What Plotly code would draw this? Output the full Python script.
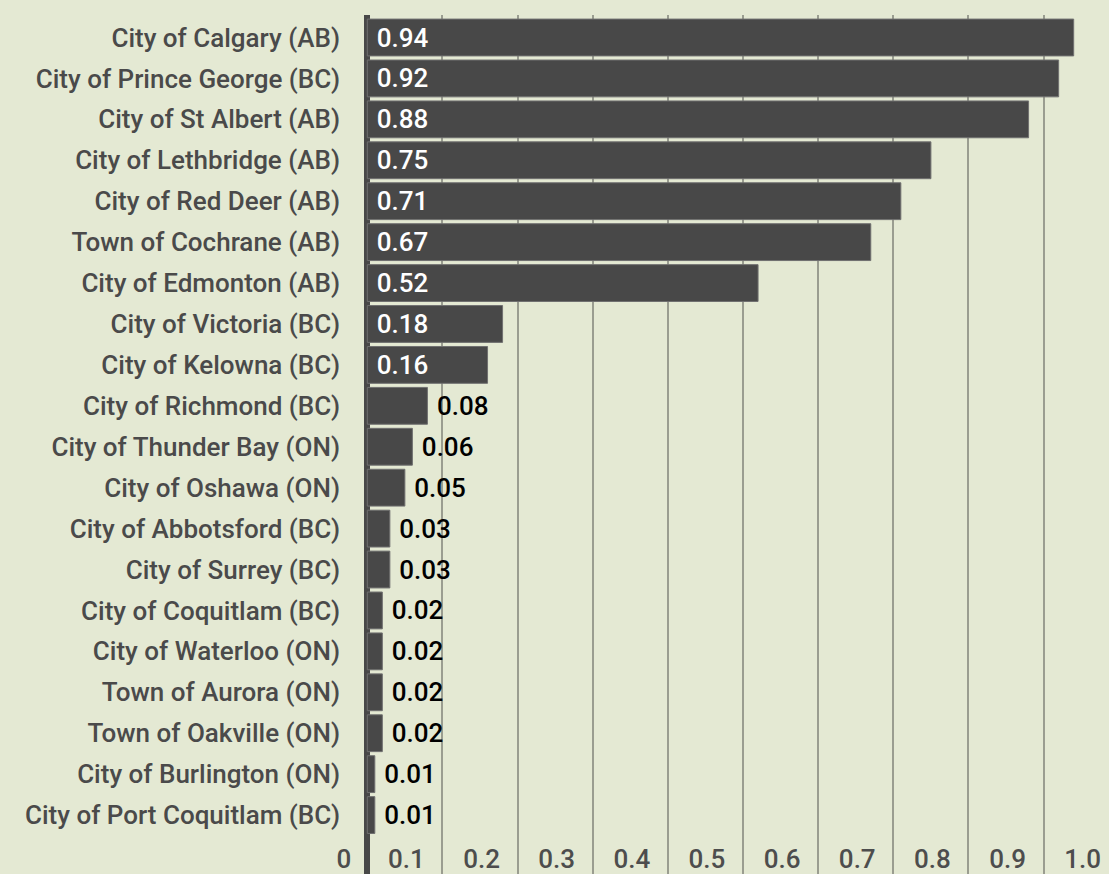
import plotly.graph_objects as go

cities = [
    "City of Calgary (AB)", "City of Prince George (BC)", "City of St Albert (AB)",
    "City of Lethbridge (AB)", "City of Red Deer (AB)", "Town of Cochrane (AB)",
    "City of Edmonton (AB)", "City of Victoria (BC)", "City of Kelowna (BC)",
    "City of Richmond (BC)", "City of Thunder Bay (ON)", "City of Oshawa (ON)",
    "City of Abbotsford (BC)", "City of Surrey (BC)", "City of Coquitlam (BC)",
    "City of Waterloo (ON)", "Town of Aurora (ON)", "Town of Oakville (ON)",
    "City of Burlington (ON)", "City of Port Coquitlam (BC)",
]
values = [0.94, 0.92, 0.88, 0.75, 0.71, 0.67, 0.52, 0.18, 0.16, 0.08,
          0.06, 0.05, 0.03, 0.03, 0.02, 0.02, 0.02, 0.02, 0.01, 0.01]
tick_values = [0.0, 0.1, 0.2, 0.3, 0.4, 0.5, 0.6, 0.7, 0.8, 0.9, 1.0]
tick_labels = ["0", "0.1", "0.2", "0.3", "0.4", "0.5", "0.6", "0.7", "0.8", "0.9", "1.0"]

BG = "#e4e9d3"
BAR = "#484848"
FONT = "Roboto"

positions = ["inside" if v >= 0.1 else "outside" for v in values]
texts = ["\u00a0" + f"{v:.2f}" for v in values]

fig = go.Figure(go.Bar(
    x=values, y=cities, orientation="h",
    marker=dict(color=BAR, line=dict(color="#707070", width=1)),
    text=texts, textposition=positions,
    insidetextanchor="start",
    insidetextfont=dict(family=FONT, size=26, color="white", weight=500),
    outsidetextfont=dict(family=FONT, size=26, color="black", weight=500),
    textangle=0, cliponaxis=False,
))

XMIN, XMAX = -0.035, 0.987
label_pos = [max(v - 0.048, -0.031) for v in tick_values]

fig.update_layout(
    width=1109, height=874,
    margin=dict(l=341, r=0, t=15, b=0),
    paper_bgcolor=BG, plot_bgcolor=BG,
    bargap=0.1, showlegend=False,
    font=dict(family=FONT, size=26, color="#4a4a4a"),
    xaxis=dict(
        range=[XMIN, XMAX], tickvals=label_pos, ticktext=tick_labels,
        showgrid=False, ticks="", ticklabelposition="inside",
        ticklabeloverflow="allow", ticklabelstandoff=-2, automargin=False,
        tickfont=dict(family=FONT, size=26, color="#4d4d4d", weight=500),
        zeroline=True, zerolinecolor=BAR, zerolinewidth=6,
        showline=False,
        minor=dict(tickvals=[0.1, 0.2, 0.3, 0.4, 0.5, 0.6, 0.7, 0.8, 0.9],
                   showgrid=True, gridcolor="#9a9d90", gridwidth=2, ticks=""),
    ),
    yaxis=dict(
        categoryorder="array", categoryarray=cities[::-1],
        range=[-1.44, 19.55], showgrid=False, zeroline=False,
        ticks="", automargin=False,
        tickfont=dict(family=FONT, size=26, color="#4a4a4a", weight=500),
    ),
)

fig.write_html(
    "out.html",
    config={"displayModeBar": False},
    post_script="document.body.style.margin='0';document.body.style.background='" + BG + "';",
)
